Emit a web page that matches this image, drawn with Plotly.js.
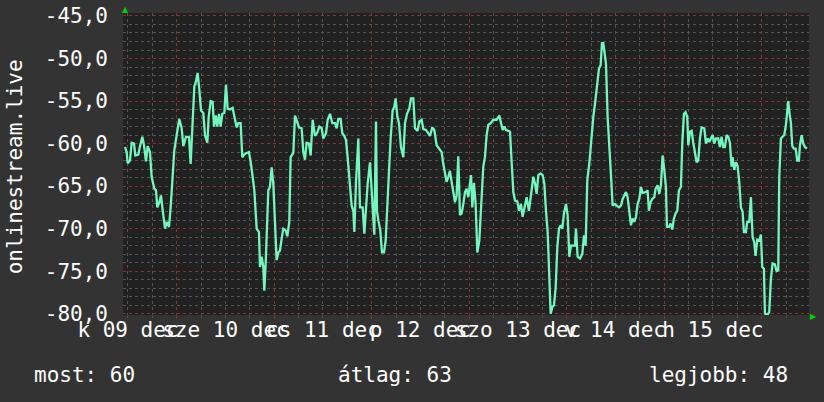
<!DOCTYPE html>
<html><head><meta charset="utf-8">
<script src="https://cdn.plot.ly/plotly-3.0.1.min.js"></script>
<style>html,body{margin:0;padding:0;background:#333333;}</style>
</head><body>
<div id="chart" style="width:824px;height:402px;"></div>
<script>
// hours since 2025-12-09 00:00
const hoursFromDec9 = [11.27,11.68,11.93,12.50,12.91,13.49,13.81,14.55,14.96,15.54,15.95,16.44,16.85,17.42,17.83,18.49,18.90,19.23,19.72,20.13,20.54,21.12,21.53,22.10,22.51,22.92,23.41,23.99,24.64,25.22,25.63,26.29,27.02,27.43,27.93,28.34,28.75,29.16,29.57,29.98,30.55,30.96,31.54,31.87,32.36,32.85,33.18,33.59,34.00,34.41,34.82,35.23,35.72,36.13,36.54,37.12,37.77,38.35,38.76,39.17,39.74,40.15,40.64,41.22,41.79,42.29,42.70,43.11,43.68,44.25,44.50,44.91,45.32,45.57,45.90,46.22,46.55,46.96,47.37,47.78,48.19,48.60,49.01,49.42,49.83,50.24,50.82,51.23,51.72,52.05,52.71,53.12,
54.10,54.76,55.17,55.58,55.99,56.57,56.98,57.47,58.04,58.62,59.11,59.68,60.09,60.75,61.16,61.74,62.31,62.97,63.38,63.79,64.36,64.77,65.26,65.67,66.08,66.66,67.07,67.48,67.73,68.14,68.71,69.12,69.78,70.19,70.60,71.01,71.58,71.99,72.40,72.65,73.06,73.30,73.63,74.12,74.54,75.03,75.44,75.85,76.26,76.67,77.16,77.57,77.90,78.31,78.72,79.21,79.79,80.20,80.69,81.26,81.67,82.25,82.66,83.31,83.72,84.30,84.71,85.37,85.94,86.35,86.92,87.42,87.99,88.65,89.22,89.63,90.04,90.45,90.86,91.27,91.68,92.09,92.50,92.91,93.32,93.73,94.15,94.56,94.97,95.38,95.79,
96.45,96.77,97.18,97.59,98.01,98.50,98.91,99.48,99.89,100.30,100.71,101.29,101.94,102.76,103.42,103.83,104.24,104.65,105.06,105.64,106.05,106.46,106.87,107.28,107.85,108.26,108.75,109.16,109.57,110.15,110.72,111.22,111.79,112.20,112.61,113.02,113.59,114.09,114.50,114.91,115.32,115.73,116.06,116.47,116.88,117.29,117.70,118.11,118.52,118.93,119.34,119.83,120.24,120.65,121.06,122.05,122.29,122.70,123.28,123.85,124.26,124.67,125.08,125.57,125.98,126.56,127.13,127.54,127.95,128.36,128.69,129.02,129.35,129.68,130.09,130.50,130.91,131.32,131.89,132.30,132.88,133.37,133.78,134.19,134.60,135.01,135.42,135.83,136.24,136.65,137.06,137.47,137.88,138.29,138.70,
139.52,139.93,140.25,140.66,141.07,141.57,141.90,142.39,142.80,143.21,143.62,144.03,144.44,144.69,145.18,145.59,146.00,146.41,146.82,147.23,147.64,148.13,148.46,148.87,149.28,149.69,149.94,150.35,150.76,151.17,151.58,151.99,152.40,152.81,153.22,153.88,154.29,154.70,155.11,155.52,155.93,156.34,156.75,157.32,157.73,158.14,158.55,158.96,159.37,159.78,160.19,160.60,160.85,161.26,161.67,162.08,162.49,162.90,163.31,163.64,164.13,164.46,164.95,165.36,165.77,166.18,166.51,166.92,167.41,167.82,168.15,168.56,168.81,169.46,169.87,170.28,170.69,171.27,171.68,172.09,172.34,172.75,173.16,173.57,173.98,174.31,174.55,174.88,175.21,175.54,175.95,176.36,176.77,177.18,177.43,177.84,178.25,178.66,179.15];

const signalDb = [-60.4,-61.0,-62.3,-62.0,-59.9,-60.0,-61.4,-61.3,-60.3,-59.2,-60.2,-62.1,-60.3,-61.0,-63.9,-65.3,-65.5,-67.5,-66.9,-66.1,-67.8,-70.0,-69.2,-69.8,-67.5,-63.9,-60.8,-59.0,-57.1,-58.2,-60.3,-59.2,-59.2,-62.4,-58.2,-53.3,-52.7,-51.7,-53.7,-56.1,-56.4,-59.0,-59.9,-56.9,-55.0,-55.1,-58.0,-56.7,-58.0,-56.5,-58.0,-56.5,-56.4,-53.1,-55.9,-56.0,-55.8,-57.2,-58.1,-57.6,-57.6,-61.6,-61.3,-61.1,-61.0,-62.4,-64.1,-65.5,-70.0,-70.4,-74.5,-73.3,-74.5,-77.3,-74.1,-68.6,-65.5,-65.1,-62.8,-64.7,-69.0,-73.7,-72.8,-72.6,-71.2,-70.0,-70.2,-70.9,-69.2,-61.6,-61.1,-56.7,
-58.1,-58.2,-61.0,-61.9,-59.9,-60.0,-61.4,-57.2,-59.1,-58.7,-58.0,-58.2,-59.4,-58.8,-57.2,-56.5,-57.6,-57.6,-58.2,-57.1,-57.1,-58.8,-59.1,-59.6,-61.6,-64.7,-67.3,-67.9,-70.4,-64.5,-59.4,-67.5,-67.5,-70.6,-67.5,-64.7,-62.2,-65.1,-68.2,-70.7,-57.4,-67.9,-69.0,-70.2,-72.8,-72.8,-71.4,-68.0,-63.3,-59.4,-56.1,-55.7,-54.7,-56.8,-57.6,-60.4,-61.6,-57.6,-56.5,-55.9,-54.7,-54.7,-58.2,-58.5,-57.4,-57.2,-58.3,-58.4,-58.8,-59.1,-58.1,-58.4,-60.2,-60.6,-61.0,-62.4,-63.3,-64.5,-63.9,-63.2,-64.5,-65.7,-66.9,-66.1,-61.5,-68.4,-68.2,-67.1,-65.7,-65.3,-66.3,
-63.7,-67.5,-64.6,-67.1,-72.8,-71.4,-67.7,-62.7,-61.6,-59.0,-57.8,-57.6,-57.2,-57.2,-56.7,-57.4,-58.4,-58.0,-58.4,-58.5,-58.6,-62.2,-65.7,-66.7,-66.8,-67.9,-67.1,-68.6,-67.5,-66.3,-67.9,-65.9,-63.9,-64.7,-65.9,-63.7,-63.5,-63.7,-64.7,-67.9,-70.4,-75.7,-80.0,-79.2,-79.0,-76.9,-72.2,-70.0,-69.6,-70.0,-68.2,-67.1,-68.4,-73.3,-72.0,-72.0,-70.0,-73.3,-73.5,-73.0,-70.8,-72.0,-64.3,-62.4,-59.8,-56.9,-54.7,-52.7,-51.2,-50.8,-48.2,-48.2,-49.8,-50.6,-56.9,-61.2,-63.7,-67.3,-67.1,-67.3,-67.5,-67.3,-66.5,-66.1,-65.7,-66.3,-68.4,-69.6,-68.8,-69.2,-68.6,-67.1,-66.5,-65.1,-65.8,
-65.7,-65.5,-67.9,-66.9,-66.5,-66.3,-65.3,-64.9,-65.9,-64.9,-61.4,-63.1,-65.1,-69.8,-69.8,-69.4,-70.1,-68.8,-68.2,-67.9,-65.5,-65.1,-60.0,-56.5,-56.3,-56.9,-60.2,-58.6,-58.5,-59.9,-61.2,-62.2,-62.0,-59.4,-58.1,-58.2,-60.0,-59.4,-59.8,-59.4,-59.0,-60.0,-59.4,-59.4,-60.4,-59.2,-60.4,-60.4,-59.0,-59.2,-59.9,-62.7,-61.6,-63.1,-62.2,-62.6,-64.5,-67.5,-68.0,-70.4,-70.4,-69.2,-69.2,-66.3,-71.0,-71.6,-73.2,-71.3,-71.4,-70.7,-74.5,-74.7,-80.0,-80.1,-79.8,-75.9,-74.1,-74.2,-75.0,-74.9,-63.9,-59.4,-59.2,-59.0,-57.8,-56.1,-55.0,-56.5,-57.6,-60.3,-60.6,-60.6,-62.0,-62.0,-60.2,-59.0,-60.0,-60.4,-60.6];

const dayTickHours = [12,36,60,84,108,132,156];
const dayTickLabels = ["k 09 dec","sze 10 dec","cs 11 dec","p 12 dec","szo 13 dec","v 14 dec","h 15 dec"];
const yTickValues = [-80,-75,-70,-65,-60,-55,-50,-45];
const yTickLabels = ["-80,0","-75,0","-70,0","-65,0","-60,0","-55,0","-50,0","-45,0"];
const seriesName = "onlinestream.live";
const statsLabels = ["most: 60","átlag: 63","legjobb: 48"];

const mono = "DejaVu Sans Mono";
const fs = 21;
const xRange = [10.78, 179.66];

const traces = [
  {x: hoursFromDec9, y: signalDb, type: "scatter", mode: "lines",
   line: {color: "#74f6be", width: 2.3}, hoverinfo: "skip", showlegend: false},
  {x: [], y: [], xaxis: "x2", type: "scatter", mode: "lines", showlegend: false}
];

const layout = {
  width: 824, height: 402,
  paper_bgcolor: "#333333", plot_bgcolor: "#212121",
  margin: {l: 123, r: 15, t: 13, b: 87},
  showlegend: false,
  xaxis: {
    range: xRange, tickmode: "array", tickvals: dayTickHours, ticktext: dayTickLabels,
    showgrid: false, zeroline: false, showline: false, ticks: "", tickangle: 0,
    tickfont: {family: mono, size: fs, color: "#ffffff"}
  },
  xaxis2: {
    overlaying: "x", range: xRange, tickmode: "linear", tick0: 0, dtick: 24,
    showticklabels: false, zeroline: false, showline: false,
    showgrid: true, gridcolor: "#7e3636", griddash: "dot", gridwidth: 1,
    ticks: "outside", ticklen: 3, tickcolor: "#7e3636",
    minor: {tickmode: "linear", tick0: 0, dtick: 6, showgrid: true, gridcolor: "#545454", griddash: "dot", gridwidth: 1,
            ticks: "outside", ticklen: 2, tickcolor: "#545454"}
  },
  yaxis: {
    range: [-80.15, -44.65], tickmode: "array", tickvals: yTickValues, ticktext: yTickLabels,
    showgrid: true, gridcolor: "#7e3636", griddash: "dot", gridwidth: 1,
    zeroline: false, showline: false, ticks: "", ticklabelstandoff: 14,
    tickfont: {family: mono, size: fs, color: "#ffffff"},
    minor: {tickmode: "linear", tick0: -80, dtick: 1, showgrid: true, gridcolor: "#545454", griddash: "dot", gridwidth: 1}
  },
  annotations: [
    {text: seriesName, xref: "paper", yref: "paper", x: -0.157, y: 0.49, xanchor: "center", yanchor: "middle",
     textangle: -90, showarrow: false, font: {family: mono, size: fs, color: "#ffffff"}},
    {text: statsLabels[0], xref: "paper", yref: "paper", x: -0.1327, y: -0.199, xanchor: "left", yanchor: "middle",
     showarrow: false, font: {family: mono, size: fs, color: "#ffffff"}},
    {text: statsLabels[1], xref: "paper", yref: "paper", x: 0.310, y: -0.199, xanchor: "left", yanchor: "middle",
     showarrow: false, font: {family: mono, size: fs, color: "#ffffff"}},
    {text: statsLabels[2], xref: "paper", yref: "paper", x: 0.9723, y: -0.199, xanchor: "right", yanchor: "middle",
     showarrow: false, font: {family: mono, size: fs, color: "#ffffff"}},
    {text: "▲", xref: "paper", yref: "paper", x: 0.003, y: 1.01, xanchor: "center", yanchor: "middle",
     showarrow: false, font: {family: "DejaVu Sans", size: 8, color: "#00cc00"}},
    {text: "▶", xref: "paper", yref: "paper", x: 1.006, y: -0.004, xanchor: "center", yanchor: "middle",
     showarrow: false, font: {family: "DejaVu Sans", size: 8, color: "#00cc00"}}
  ]
};

Plotly.newPlot("chart", traces, layout, {displayModeBar: false, staticPlot: true});
</script>
</body></html>
